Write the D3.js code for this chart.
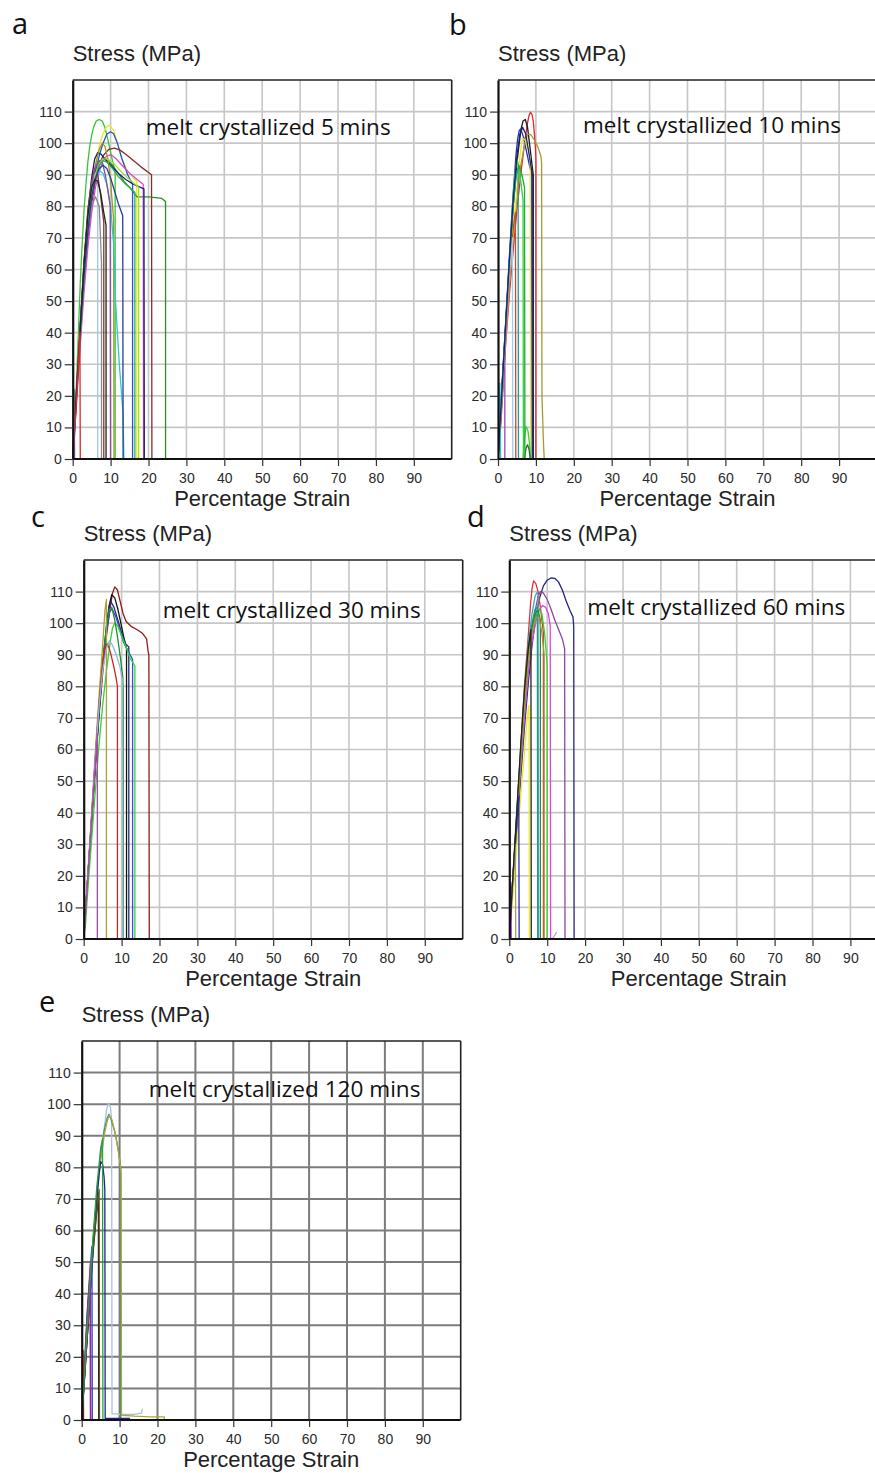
<!DOCTYPE html>
<html>
<head>
<meta charset="utf-8">
<script src="https://cdn.jsdelivr.net/npm/d3@7"></script>
<style>
body { margin: 0; background: #fff; }
svg { display: block; }
</style>
</head>
<body>
<div id="fig"></div>
<script>
// axis ticks shared by the five panels
var xTicks = [0, 10, 20, 30, 40, 50, 60, 70, 80, 90]
var yTicks = [0, 10, 20, 30, 40, 50, 60, 70, 80, 90, 100, 110]
var gridX = [10, 20, 30, 40, 50, 60, 70, 80, 90]
var gridY = [10, 20, 30, 40, 50, 60, 70, 80, 90, 100, 110]
var panelLetters = ["a", "b", "c", "d", "e"]
var panelTimes = ["5", "10", "30", "60", "120"]

// curves: [percentage strain, stress MPa]
var curvesA = [
  [[0,0],[0.5,11],[1,24],[1.5,40],[2,56],[2.5,68],[3,79],[3.5,87],[4,94],[4.5,99],[5,102.5],[5.5,105],[6.2,107],[7,107.5],[7.8,107],[8.5,105],[9.3,101],[10.2,96],[11,92],[11.2,90],[11.2,0]],
  [[0,0],[1,20],[2,40],[3,58],[4,73],[5,85],[6,93],[7,99],[8,103],[9,105.3],[9.8,105.6],[10.8,104],[11.8,100],[13,95],[14.5,91],[16,89],[16.9,88],[16.9,0]],
  [[0,0],[1,20],[2,40],[3,58],[4,73],[5,84],[6,91],[7,96],[8,100],[9,102.8],[10,103.6],[10.8,103],[11.8,100],[13,95],[14.5,90],[15.8,87],[15.8,0]],
  [[0,0],[1,19],[2,38],[3,56],[4,70],[5,81],[6,88],[7,93],[8,96],[9.5,98],[11,98.4],[12.5,97.8],[14,96.5],[16,94.5],[18,92.5],[20.8,90],[20.9,0]],
  [[0,0],[1,20],[2,40],[3,58],[4,72],[5,83],[6,90],[7,94],[8,95.2],[9,94.8],[10.5,93],[12,90.5],[13.5,88],[15,86],[16.3,84],[17,83],[20,83],[23.5,82.5],[24.5,81.5],[24.5,0]],
  [[0,0],[0.3,5],[1,18],[2,36],[3,53],[4,67],[5,78],[6,86],[7,91],[8,94.5],[9,96],[10.2,96.3],[11.5,95],[13,93],[15,90.5],[17,88.5],[18.6,87],[18.7,0]],
  [[0,0],[1,21],[2,42],[3,62],[4,78],[5,89],[5.8,95],[6.6,97],[7.5,96.5],[8.5,95],[10,93],[12,90.5],[14,88.5],[16,87],[18.8,85.5],[18.9,0]],
  [[0,0],[1,20],[2,40],[3,58],[4,73],[5,85],[6,93],[7,98],[7.8,100],[8.5,99],[9.3,95],[10,88],[10.5,80],[10.8,76],[10.9,0]],
  [[0,0],[1,21],[2,41],[3,60],[4,74],[5,84],[6,89.5],[7,91.3],[8,90.5],[9,87],[10,80],[10.8,68],[11.3,50],[12.3,30],[13.3,14],[13.5,0]],
  [[0,0],[1,21],[2,42],[3,61],[4,76],[5,86],[6,90.5],[6.6,91],[6.6,0]],
  [[0,0],[1,22],[2,43],[3,63],[4,79],[5,88],[5.8,92],[6.6,90],[7.3,84],[8,77],[8.2,75],[8.2,0]],
  [[0,0],[1,21],[2,42],[3,60],[4,73],[5,80],[6,83],[7,80],[7.6,62],[7.6,0]],
  [[0,0],[1,21],[2,42],[3,61],[4,77],[5,87],[6,92.5],[7,94.5],[7.8,94],[8.6,90],[9.3,85],[9.9,80],[10,0]],
  [[0,0],[1,20],[2,40],[3,59],[4,73],[5,84],[6,90],[7,93.5],[8,95],[9,95],[10.5,94],[12,92],[14,89.5],[16,87.5],[17.4,86],[17.4,0]],
  [[0,0],[1,20],[2,40],[3,58],[4,72],[5,83],[6,89],[7,93],[8,94.5],[9,94],[10.5,92],[12,89.5],[14,87],[16.4,84.5],[16.4,0]],
  [[0,0],[1,20],[2,40],[3,58],[4,72],[5,83],[6,89],[7,92],[8,93],[9,92],[10,89],[11,85],[12,81],[13.2,77],[13.3,0]],
  [[0,0],[1,21],[2,42],[3,62],[4,77],[5,86],[5.8,88.5],[6.6,88],[7.4,84],[8.2,78],[8.8,74],[8.8,0]],
  [[0,0],[0.5,8],[1,18],[1.5,30],[1.9,40],[2,0]],
  [[0,0],[0.2,8],[0.4,22],[0.5,0]],
  [[0,0],[0.2,6],[0.3,12],[0.35,0]]
]
var colorsA = ["#35c535","#e8e822","#2a50d0","#8b2a2a","#2f8a2f","#d84ad8","#1c1c7a","#9a9a22","#22cccc","#9cc8ea",
  "#7a3b2b","#888888","#8a4aa8","#9be22b","#2ab04a","#2a3a9a","#222222","#d42a2a","#777777","#cc33cc"]

var curvesB = [
  [[0,0],[0.8,12],[1.5,26],[2,36],[3,52],[4,66],[5,79],[6,90],[7,100],[7.8,106.5],[8.2,108.8],[8.6,109.8],[9,109],[9.3,107],[9.6,103],[9.9,98],[10,95],[10,0]],
  [[0,0],[0.5,12],[1,22],[2,42],[3,62],[4,80],[5,94],[5.6,100],[6.1,104.5],[6.6,107],[7.2,107.5],[7.8,105],[8.4,99],[9,93],[9.3,90],[9.3,0]],
  [[0,0],[0.3,10],[0.6,16],[1,22],[2,43],[3,64],[4,84],[4.8,97],[5.2,101.5],[5.6,104],[6,104.5],[6.7,102],[7.5,97.5],[8.3,93],[8.9,90],[9,0]],
  [[0,0],[1,18],[2,37],[3,55],[4,70],[5,83],[6,93],[7,99.5],[7.8,102.8],[8.6,102.8],[9.6,101],[10.6,98.5],[11.3,96],[11.5,94],[11.6,20],[12,5],[12.2,0]],
  [[0,0],[1,19],[2,38],[3,56],[4,72],[5,86],[5.8,96],[6.4,101.5],[7.2,101],[8,98],[8.5,95],[8.6,0]],
  [[0,0],[1,20],[2,40],[3,62],[3.8,80],[4.4,90],[5,95],[5.6,92],[6.2,86],[6.6,82],[6.7,0]],
  [[6.6,0],[7,7],[7.4,10.3],[7.9,9],[8.3,5],[8.6,0]],
  [[7,0],[7.4,3.5],[7.8,4.5],[8.2,3],[8.5,0]],
  [[0,0],[1,20],[2,41],[3,62],[4,80],[4.8,90],[5.5,93],[6.3,90],[7,86],[7.1,0]],
  [[0,0],[1,19],[2,38],[3,56],[3.8,70],[4.3,76],[4.6,78],[4.7,0]],
  [[0,0],[0.6,10],[1.2,22],[1.8,35],[1.8,0]],
  [[0,0],[1,20],[2,40],[3,58],[3.8,70],[3.9,0]],
  [[0,0],[1,20],[2,41],[3,62],[4,80],[4.8,90],[5.3,92],[5.4,0]],
  [[0,0],[0.3,12],[0.5,24],[0.7,0]],
  [[0,0],[1,21],[2,42],[3,63],[4,82],[5,96],[5.8,103],[6.5,105],[7.3,103],[8,98],[8.8,92],[9.2,89],[9.2,0]]
]
var colorsB = ["#dc2a2a","#1a1a1a","#2030c8","#a89a30","#ecec1a","#33d433","#33d433","#2a6a2a","#22aa33","#c0502a",
  "#9a48aa","#a8c8ec","#2a9a9a","#22c8c8","#22226a"]

var curvesC = [
  [[0,0],[1,17],[2,35],[3,53],[4,70],[5,84],[6,96],[7,105],[7.6,109.5],[8.2,111.5],[8.9,110.5],[9.6,107],[10.4,103],[11.2,100.5],[12.5,99],[14,98],[15.5,96.8],[16.6,95],[17,91],[17.2,90],[17.3,0]],
  [[0,0],[1,18],[2,36],[3,54],[4,71],[5,86],[6,98],[6.8,106],[7.4,109],[8.2,108],[9,104.5],[9.8,100],[10.5,96],[11.3,92],[11.3,0]],
  [[0,0],[1,18],[2,36],[3,55],[4,72],[5,87],[6,99],[6.7,105.5],[7.2,106.8],[8,105],[9,101],[10,97],[11,93.5],[11.9,92.5],[11.9,0]],
  [[0,0],[1,18],[2,36],[3,54],[4,71],[5,86],[6,97],[6.8,103.5],[7.5,104.5],[8.5,102],[9.5,98],[10.5,94],[11.8,91],[12.9,88.5],[12.9,0]],
  [[0,0],[0.5,5],[1,14],[2,30],[3,46],[4,61],[5,74],[6,85],[7,94],[7.6,98.5],[8.2,100],[9,99],[10,96],[11,93],[12.2,89],[13.5,86.5],[13.5,0]],
  [[0,0],[1,18],[2,37],[3,56],[4,73],[5,88],[6,99],[6.8,104.5],[7.4,105],[8.2,101],[9,95],[9.8,88],[10.3,83],[10.4,79],[10.4,0]],
  [[0,0],[1,19],[2,38],[3,58],[4,76],[5,93],[5.6,104],[6,107.5],[6,0]],
  [[0,0],[1,18],[2,37],[3,56],[4,74],[5,87],[5.6,92.5],[6.3,93.5],[7,91],[7.8,87],[8.5,83],[8.9,80],[8.9,0]],
  [[0,0],[1,18],[2,37],[3,56],[4,73],[5,85],[6,92],[6.8,94.5],[7.6,93],[8.6,90],[9.6,86],[10.2,82],[10.3,0]],
  [[0,0],[1,18],[2,36],[3,54],[3.6,65],[3.6,0]]
]
var colorsC = ["#8a1c1c","#111111","#24248a","#3050c8","#33d433","#248a30","#aaa034","#d42222","#8cbadc","#a648a6"]

var curvesD = [
  [[0,0],[1,17],[2,34],[3,51],[4,67],[5,81],[6,93],[7,102],[8,108],[9,111.8],[10,113.6],[11,114.3],[12,114.2],[13,113],[14,110.5],[15,107],[16,104],[16.8,102],[17,99],[17.1,0]],
  [[0,0],[1,20],[2,40],[3,60],[4,80],[5,96],[5.6,106],[6,111],[6.4,113.4],[7,112.5],[7.6,110],[8.2,105],[8.7,100],[9,97],[9,0]],
  [[0,0],[1,19],[2,38],[3,57],[4,74],[5,88],[6,98],[7,105],[7.6,108.5],[8.2,110],[9,109.5],[10,107.5],[11,104.5],[12,101],[13,98],[14,95],[14.6,92],[14.7,0]],
  [[0,0],[1,18],[2,36],[3,54],[4,70],[5,84],[6,94],[7,100.5],[8,104.5],[8.8,105.6],[9.6,105],[10.3,103],[10.8,99],[10.9,0]],
  [[0,0],[1,20],[2,40],[3,60],[4,78],[5,93],[6,103],[6.8,108.5],[7.3,109.7],[7.6,109],[7.7,0]],
  [[0,0],[1,20],[2,40],[3,59],[4,77],[5,91],[6,100],[6.8,104.5],[7.4,105],[7.5,0]],
  [[0,0],[1,19],[2,38],[3,57],[4,74],[5,88],[6,97],[7,102.5],[7.8,104.5],[8.6,103],[9.3,97],[9.8,90],[10,86],[10,0]],
  [[0,0],[1,20],[2,39],[3,58],[4,76],[5,90],[6,99],[7,103.5],[7.6,104],[8.2,101],[8.2,0]],
  [[0,0],[1,19],[2,38],[3,57],[4,74],[5,88],[6,97],[7,101.5],[7.8,102],[8.6,97],[9.2,90],[9.2,0]],
  [[0,0],[1,15],[2,30],[3,45],[4,59],[4.6,68],[5,73],[5.2,74],[5.3,0]],
  [[0,0],[0.5,10],[1,20],[1.5,29],[2,37],[2.5,45],[2.6,0]],
  [[0,0],[0.6,12],[1.2,24],[1.6,30],[1.7,0]],
  [[0,0],[0.2,8],[0.4,18],[0.5,0]],
  [[0,0],[1,21],[2,41],[3,61],[4,79],[5,92],[5.7,98],[5.8,0]],
  [[11.3,0],[12.5,2.2]]
]
var colorsD = ["#24247a","#dc3434","#8a4a9a","#dc44dc","#3aa8c0","#22998a","#38d038","#2a8a40","#a09a30","#ecec24",
  "#2a2ab0","#a0a060","#8a22d8","#222222","#b0b0c8"]

var curvesE = [
  [[0,0],[1,19],[2,38],[3,56],[4,72],[5,84],[6,93],[6.6,98.5],[7.1,100.3],[7.6,99],[7.9,95],[8,2],[10,1.8],[14,1.8],[15.8,2.2],[16,3.6]],
  [[0,0],[1,20],[2,39],[3,57],[4,72],[5,84],[6,92],[6.7,95.5],[7.2,96.8],[7.8,95],[8.8,91],[9.6,86],[10.3,80],[10.3,0]],
  [[0,0],[1,19],[2,38],[3,56],[4,71],[5,82],[6,90.5],[6.8,95],[7.3,96.5],[8,95],[8.8,91],[9.6,85.5],[10.2,80.5],[10.4,78],[10.5,1.5],[14,1.2],[18,1],[21.8,1],[21.8,0]],
  [[0,0],[1,18],[2,36],[3,55],[4,70],[4.6,78],[5,81.8],[5.5,81],[5.9,77],[6.1,73],[6.2,0.5],[12.6,0.5],[12.6,0]],
  [[0,0],[1,18],[2,36],[3,53],[3.8,64],[4.4,71],[4.5,0]],
  [[0,0],[1,18],[2,36],[3,54],[4,67],[4.6,73],[4.7,0]],
  [[0,0],[0.5,11],[1,24],[1.5,35],[2,43],[2.5,52],[2.7,55],[2.8,0]],
  [[0,0],[0.5,10],[1,22],[1.5,34],[2,44],[2.3,50],[2.4,0]],
  [[0,0],[1,21],[1.6,35],[2.2,46],[2.3,0]],
  [[0,0],[0.2,10],[0.4,22],[0.5,0]],
  [[0,0],[0.15,8],[0.25,13],[0.3,0]],
  [[0,0],[1,20],[2,40],[3,58],[4,74],[5,86],[5.5,89],[5.6,0]]
]
var colorsE = ["#a8c0e0","#2a9090","#b0a636","#22228a","#181818","#5a5a1c","#2a44d8","#b82090","#8a2a9a","#d82a2a",
  "#1a1a6a","#2aa040"]

var allCurves = [curvesA, curvesB, curvesC, curvesD, curvesE]
var allColors = [colorsA, colorsB, colorsC, colorsD, colorsE]

// where each panel sits on the page
var layout = [
  {left: 72.7, top: 80, tx: 73, ty: 55, tw: 245, lx: 12, ly: 34, grid: "#c6c6c6", gw: 1.6},
  {left: 498, top: 80, tx: 85, ty: 53, tw: 258, lx: 449, ly: 35, grid: "#c6c6c6", gw: 1.6},
  {left: 83.7, top: 560, tx: 79, ty: 58, tw: 258, lx: 31, ly: 527, grid: "#c6c6c6", gw: 1.6},
  {left: 509.3, top: 560, tx: 78, ty: 55, tw: 258, lx: 467, ly: 527, grid: "#c6c6c6", gw: 1.6},
  {left: 81.7, top: 1041, tx: 67, ty: 56, tw: 272, lx: 39, ly: 1012, grid: "#7c7c7c", gw: 2}
]
var pw = 379, ph = 379

var svg = d3.select("#fig").append("svg")
    .attr("width", 875)
    .attr("height", 1473)

var defs = svg.append("defs")

layout.forEach(function(p, i){
    var x = d3.scaleLinear().domain([0, 100]).range([0, pw])
    var y = d3.scaleLinear().domain([0, 120]).range([ph, 0])

    var g = svg.append("g")
        .attr("transform", "translate(" + p.left + "," + p.top + ")")

    defs.append("clipPath").attr("id", "clip" + i)
        .append("rect").attr("width", pw).attr("height", ph)

    // grid
    g.selectAll(".gx").data(gridX).enter().append("line")
        .attr("x1", function(d){ return x(d) }).attr("x2", function(d){ return x(d) })
        .attr("y1", 0).attr("y2", ph)
        .attr("stroke", p.grid).attr("stroke-width", p.gw)
    g.selectAll(".gy").data(gridY).enter().append("line")
        .attr("y1", function(d){ return y(d) }).attr("y2", function(d){ return y(d) })
        .attr("x1", 0).attr("x2", pw)
        .attr("stroke", p.grid).attr("stroke-width", p.gw)

    // frame top + right
    g.append("line").attr("x1", 0).attr("x2", pw).attr("y1", 0).attr("y2", 0)
        .attr("stroke", "#222").attr("stroke-width", 1.6)
    g.append("line").attr("x1", pw).attr("x2", pw).attr("y1", 0).attr("y2", ph)
        .attr("stroke", "#222").attr("stroke-width", 1.6)

    // curves (straight segments, so the fracture drops stay vertical)
    var line = d3.line()
        .x(function(d){ return x(d[0]) })
        .y(function(d){ return y(d[1]) })
    var cg = g.append("g").attr("clip-path", "url(#clip" + i + ")")
    cg.selectAll("path").data(allCurves[i]).enter().append("path")
        .attr("d", line)
        .attr("fill", "none")
        .attr("stroke", function(d, j){ return allColors[i][j] })
        .attr("stroke-width", 1.3)
        .attr("stroke-linejoin", "round")

    // axes
    var ax = g.append("g").attr("transform", "translate(0," + ph + ")")
        .call(d3.axisBottom(x).tickValues(xTicks).tickSize(7).tickPadding(7).tickSizeOuter(0))
    var ay = g.append("g")
        .call(d3.axisLeft(y).tickValues(yTicks).tickSize(8).tickPadding(3).tickSizeOuter(0))
    ;[ax, ay].forEach(function(a){
        a.select(".domain").attr("stroke", "#111").attr("stroke-width", 2.2)
        a.selectAll(".tick line").attr("stroke", "#333").attr("stroke-width", 1.2)
        a.selectAll(".tick text")
            .attr("font-family", "'Liberation Sans', Arial, sans-serif")
            .attr("font-size", 14)
            .attr("fill", "#2a2a2a")
    })
    ax.select(".domain").attr("d", "M0,0H" + pw)

    // axis titles
    g.append("text")
        .attr("x", 0).attr("y", -19.5)
        .attr("font-family", "'Liberation Sans', Arial, sans-serif")
        .attr("font-size", 22).attr("fill", "#222")
        .text("Stress (MPa)")
    g.append("text")
        .attr("x", pw / 2).attr("y", ph + 47)
        .attr("text-anchor", "middle")
        .attr("font-family", "'Liberation Sans', Arial, sans-serif")
        .attr("font-size", 22).attr("fill", "#222")
        .text("Percentage Strain")

    // in-plot caption, scaled to the width seen in the figure
    var cap = g.append("text")
        .attr("x", p.tx).attr("y", p.ty)
        .attr("font-family", "'Open Sans', 'Noto Sans', sans-serif")
        .attr("font-size", 20).attr("fill", "#111")
        .text("melt crystallized " + panelTimes[i] + " mins")
    var len = cap.node().getComputedTextLength()
    cap.attr("font-size", 20 * p.tw / len)

    // panel letter
    svg.append("text")
        .attr("x", p.lx).attr("y", p.ly)
        .attr("font-family", "'Open Sans', 'Noto Sans', sans-serif")
        .attr("font-size", 29).attr("fill", "#111")
        .text(panelLetters[i])
})
</script>
</body>
</html>
